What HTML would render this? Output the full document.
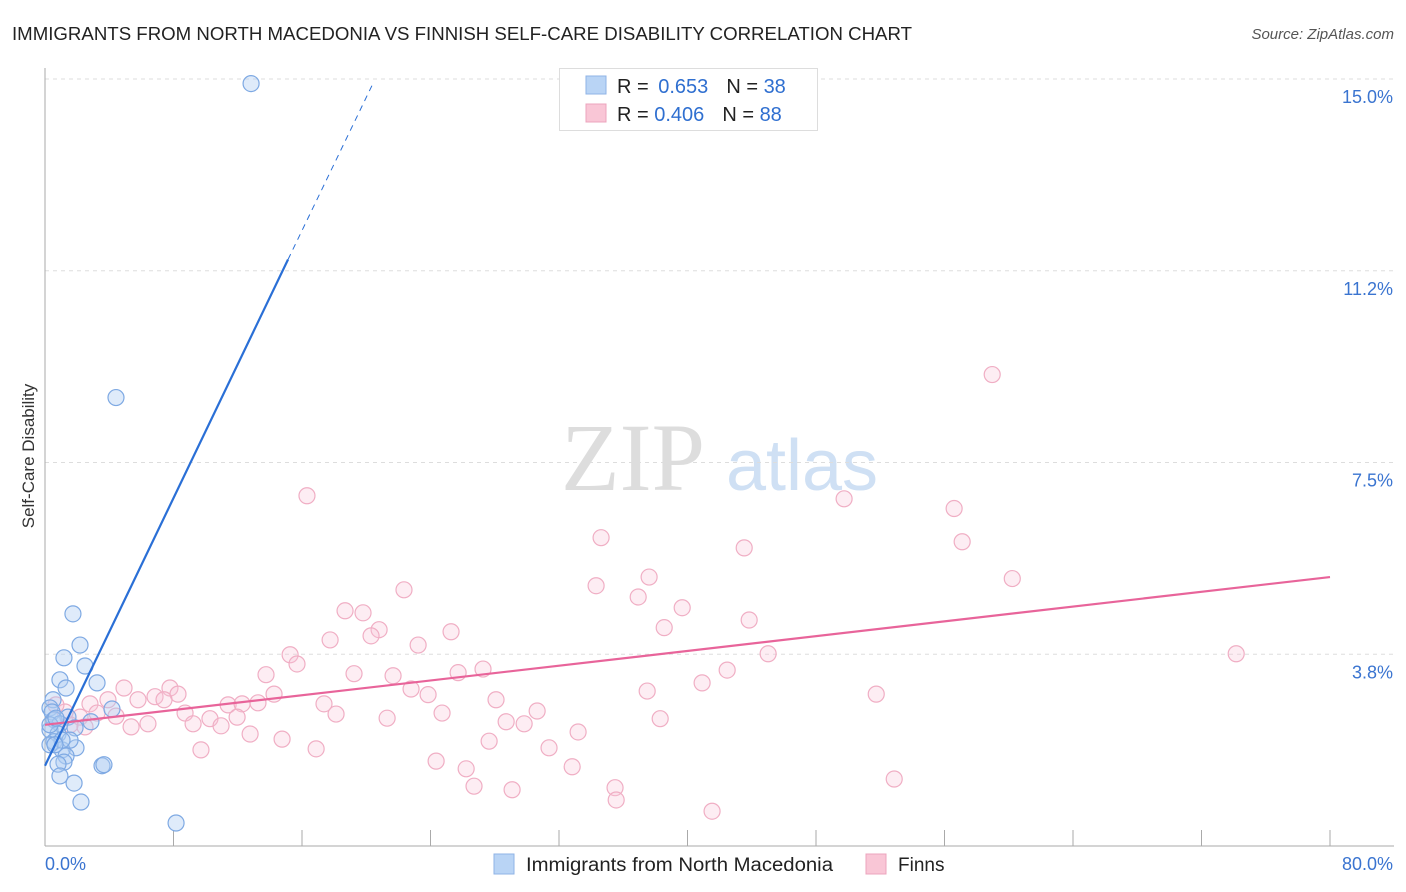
<!DOCTYPE html>
<html><head><meta charset="utf-8">
<style>
body{margin:0;background:#fff;font-family:"Liberation Sans",sans-serif;}
svg{display:block}
</style></head>
<body>
<svg id="chart" width="1406" height="892" xmlns="http://www.w3.org/2000/svg">
<text x="12" y="40" font-size="18.5" fill="#222" textLength="900" lengthAdjust="spacingAndGlyphs">IMMIGRANTS FROM NORTH MACEDONIA VS FINNISH SELF-CARE DISABILITY CORRELATION CHART</text>
<text x="1394" y="39" font-size="15" fill="#555" font-style="italic" text-anchor="end">Source: ZipAtlas.com</text>
<g>
<text x="633" y="490" font-size="96" font-family="Liberation Serif,serif" fill="#ddd" text-anchor="middle">ZIP</text>
<text x="802" y="490" font-size="72" fill="#cfe0f4" text-anchor="middle">atlas</text>
</g>
<text transform="translate(34,456) rotate(-90)" font-size="17" fill="#333" text-anchor="middle">Self-Care Disability</text>
<g id="grid"></g>
<g id="axes"></g>
<g id="marks"></g>
<g>
<rect x="559.5" y="68.5" width="258" height="62" fill="#fff" stroke="#ddd"/>
<rect x="586" y="76" width="20" height="18" fill="#b9d4f5" stroke="#8fb3e6"/>
<rect x="586" y="104" width="20" height="18" fill="#f9c6d6" stroke="#eca4bd"/>
<text x="617" y="93" font-size="20" fill="#222">R = <tspan fill="#2f6fd0" dx="4">0.653</tspan><tspan dx="18" fill="#222">N = </tspan><tspan fill="#2f6fd0">38</tspan></text>
<text x="617" y="121" font-size="20" fill="#222">R = <tspan fill="#2f6fd0">0.406</tspan><tspan dx="18" fill="#222">N = </tspan><tspan fill="#2f6fd0">88</tspan></text>
</g>
<g>
<rect x="494" y="854" width="20" height="20" fill="#b9d4f5" stroke="#8fb3e6"/>
<text x="526" y="871" font-size="19" fill="#222" textLength="307" lengthAdjust="spacingAndGlyphs">Immigrants from North Macedonia</text>
<rect x="866" y="854" width="20" height="20" fill="#f9c6d6" stroke="#eca4bd"/>
<text x="898" y="871" font-size="19" fill="#222">Finns</text>
</g>
</svg>
<script>
const blueX=[12.83,4.42,1.74,2.18,1.18,2.49,0.93,3.24,1.31,0.50,0.31,4.17,0.44,1.43,0.56,2.86,0.93,1.87,0.31,0.81,0.56,1.93,1.06,1.31,1.18,0.81,3.55,3.67,0.93,1.81,2.24,8.16,0.31,0.68,1.56,1.06,0.31,0.62];
const blueY=[14.91,8.77,4.54,3.93,3.68,3.52,3.25,3.19,3.09,2.86,2.70,2.68,2.62,2.52,2.47,2.43,2.39,2.31,2.27,2.19,2.04,1.92,1.88,1.76,1.64,1.60,1.57,1.59,1.37,1.23,0.86,0.45,2.37,2.50,2.07,2.07,1.98,1.98];
const pinkX=[58.97,16.31,49.75,56.60,34.62,57.10,43.53,37.61,60.22,34.31,22.35,36.93,18.68,19.80,39.67,20.80,43.84,38.55,25.28,17.75,20.30,23.23,15.26,45.02,74.16,15.69,42.47,27.27,25.72,13.76,19.24,21.67,40.91,22.79,4.92,7.78,8.28,14.26,37.49,51.75,23.85,6.85,7.41,28.08,5.79,13.26,2.80,11.40,12.27,17.37,3.92,30.64,8.72,18.12,24.72,3.24,4.42,10.27,11.96,21.30,38.30,2.18,28.71,29.83,9.22,10.96,6.41,5.36,33.19,12.77,14.76,27.65,31.38,16.88,9.71,24.35,32.82,26.22,52.87,26.71,35.49,29.08,35.56,41.53,1.25,1.56,0.68,2.49];
const pinkY=[9.22,6.85,6.79,6.60,6.03,5.95,5.83,5.26,5.23,5.09,5.01,4.87,4.60,4.56,4.66,4.23,4.42,4.27,4.19,4.03,4.11,3.93,3.74,3.76,3.76,3.56,3.44,3.46,3.39,3.35,3.37,3.33,3.19,3.07,3.09,3.09,2.97,2.97,3.03,2.97,2.96,2.92,2.86,2.86,2.86,2.80,2.78,2.76,2.78,2.78,2.86,2.64,2.60,2.58,2.60,2.60,2.54,2.49,2.52,2.50,2.49,2.52,2.43,2.39,2.39,2.35,2.39,2.33,2.23,2.19,2.09,2.05,1.92,1.90,1.88,1.66,1.55,1.51,1.31,1.17,1.14,1.10,0.90,0.68,2.62,2.37,2.76,2.33];
const yTicks=[3.75,7.5,11.25,15];
const yTickLabels=["3.8%","7.5%","11.2%","15.0%"];
const blueTrend=[0,1.57,15.13,11.47,20.4,14.9];
const pinkTrend=[0,2.37,80,5.26];
const NS="http://www.w3.org/2000/svg";
const X0=45,X1=1330,Y0=846,Y15=79;
const sx=v=>X0+(v/80)*(X1-X0);
const sy=v=>Y0-(v/15)*(Y0-Y15);
function mk(tag,attrs,parent){const e=document.createElementNS(NS,tag);for(const k in attrs)e.setAttribute(k,attrs[k]);parent.appendChild(e);return e;}
const grid=document.getElementById('grid'),axes=document.getElementById('axes'),marks=document.getElementById('marks');
yTicks.forEach((t,i)=>{
 const l=mk('line',{x1:X0,x2:1394,y1:sy(t),y2:sy(t),stroke:'#ddd','stroke-dasharray':'4,4'},grid);
 
 
 const tx=mk('text',{x:1393,y:sy(t)+24,'font-size':18,fill:'#3a74d0','text-anchor':'end'},axes);
 tx.textContent=yTickLabels[i];
 
 
});
const ya=mk('line',{x1:X0,x2:X0,y1:68,y2:846,stroke:'#aaa'},axes);


const xa=mk('line',{x1:X0,x2:1394,y1:846,y2:846,stroke:'#aaa'},axes);


for(let i=1;i<=10;i++){
 const t=mk('line',{x1:sx(i*8),x2:sx(i*8),y1:830,y2:846,stroke:'#aaa'},axes);
 
 
}
const xl=mk('text',{x:45,y:870,'font-size':18,fill:'#3a74d0'},axes);xl.textContent='0.0%';


const xr=mk('text',{x:1393,y:870,'font-size':18,fill:'#3a74d0','text-anchor':'end'},axes);xr.textContent='80.0%';


pinkX.forEach((x,i)=>{
 const c=mk('circle',{cx:sx(x),cy:sy(pinkY[i]),r:8,fill:'rgba(249,195,214,0.3)',stroke:'#f0aec4','stroke-width':1.2},marks);
 
 
});
blueX.forEach((x,i)=>{
 const c=mk('circle',{cx:sx(x),cy:sy(blueY[i]),r:8,fill:'rgba(175,205,242,0.4)',stroke:'#7ea9e3','stroke-width':1.2},marks);
 
 
});
const pl=mk('line',{x1:sx(pinkTrend[0]),y1:sy(pinkTrend[1]),x2:sx(pinkTrend[2]),y2:sy(pinkTrend[3]),stroke:'#e8649a','stroke-width':2.2},marks);


const bl=mk('line',{x1:sx(blueTrend[0]),y1:sy(blueTrend[1]),x2:sx(blueTrend[2]),y2:sy(blueTrend[3]),stroke:'#2a6fd6','stroke-width':2.2},marks);


const bd=mk('line',{x1:sx(blueTrend[2]),y1:sy(blueTrend[3]),x2:sx(blueTrend[4]),y2:sy(blueTrend[5]),stroke:'#2a6fd6','stroke-width':1,'stroke-dasharray':'6,5'},marks);


</script>
</body></html>
